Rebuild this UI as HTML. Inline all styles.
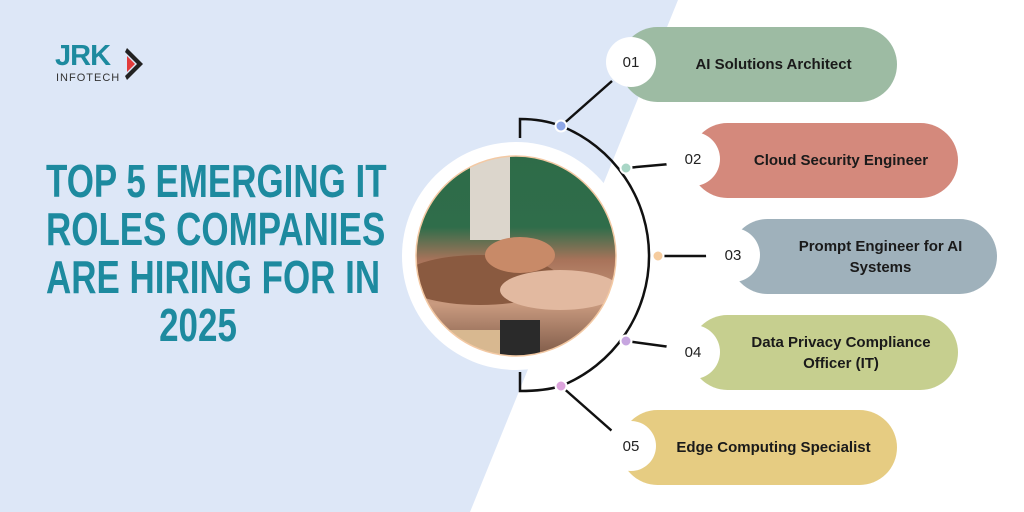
<!DOCTYPE html>
<html><head><meta charset="utf-8"><style>
body{margin:0;width:1024px;height:512px;overflow:hidden;background:#fff;font-family:"Liberation Sans",sans-serif;position:relative}
.t{position:absolute;left:-2px;width:400px;text-align:center;color:#1d8a9f;font-weight:bold;font-size:46px;line-height:48px;white-space:nowrap;transform:scaleX(0.76);transform-origin:center}
.pill{position:absolute;height:75px;border-radius:38px;display:flex;align-items:center;justify-content:center;font-weight:bold;font-size:15px;color:#1a1a1a;text-align:center;line-height:21px}
.num{position:absolute;width:50px;height:50px;border-radius:50%;background:#fff;font-size:15px;color:#222;display:flex;align-items:center;justify-content:center}
</style></head><body>
<svg width="1024" height="512" style="position:absolute;left:0;top:0">
<polygon points="0,0 678,0 470,512 0,512" fill="#dde7f7"/>
<defs><clipPath id="c"><circle cx="516" cy="256" r="100"/></clipPath>
<linearGradient id="g1" x1="0" y1="0" x2="0" y2="1"><stop offset="0" stop-color="#2e6b48"/><stop offset="0.35" stop-color="#2f6d4a"/><stop offset="0.5" stop-color="#a8735a"/><stop offset="0.7" stop-color="#c99a7f"/><stop offset="1" stop-color="#6b4a3a"/></linearGradient></defs>
<circle cx="516" cy="256" r="114" fill="#fff"/>
<g clip-path="url(#c)">
<rect x="410" y="150" width="220" height="220" fill="url(#g1)"/>
<rect x="470" y="150" width="40" height="90" fill="#dcd6cc"/>
<ellipse cx="480" cy="280" rx="80" ry="25" fill="#8a5a40"/>
<ellipse cx="560" cy="290" rx="60" ry="20" fill="#e2b9a0"/>
<ellipse cx="520" cy="255" rx="35" ry="18" fill="#c88a68"/>
<rect x="500" y="320" width="40" height="60" fill="#2a2a2a"/>
<rect x="420" y="330" width="80" height="40" fill="#d8b890"/>
</g>
<circle cx="516" cy="256" r="100" fill="none" stroke="#f3c9a4" stroke-width="1.5"/>
<g stroke="#111" stroke-width="2.5" fill="none">
<path d="M520,138 V119 C535,119 548,121 561,126"/>
<path d="M520,372 V391 C535,391 548,390 561,386"/>
<path d="M561,126 A140,140 0 0 1 561,386"/>
<line x1="561" y1="126" x2="612" y2="81"/>
<line x1="561" y1="386" x2="612" y2="431"/>
<line x1="626" y1="168" x2="670" y2="164"/>
<line x1="658" y1="256" x2="708" y2="256"/>
<line x1="626" y1="341" x2="670" y2="347"/>
</g>
<circle cx="561" cy="126" r="5.5" fill="#8fa7e6" stroke="#fff" stroke-width="2"/>
<circle cx="626" cy="168" r="5.5" fill="#a9d6c6" stroke="#fff" stroke-width="2"/>
<circle cx="658" cy="256" r="5.5" fill="#f6cc9e" stroke="#fff" stroke-width="2"/>
<circle cx="626" cy="341" r="5.5" fill="#c7a6e0" stroke="#fff" stroke-width="2"/>
<circle cx="561" cy="386" r="5.5" fill="#dca3dc" stroke="#fff" stroke-width="2"/>
<polygon points="127,48 143,64 127,80 125,76 137,64 125,52" fill="#222"/>
<polygon points="127,56 135,64 127,72" fill="#e23b3b"/>
</svg>
<div style="position:absolute;left:55px;top:41px;font-weight:bold;font-size:29px;color:#1d8a9f;letter-spacing:-1px;line-height:30px">JRK</div>
<div style="position:absolute;left:56px;top:72px;font-size:11px;color:#333;letter-spacing:1px">INFOTECH</div>
<div class="t" style="top:157px">TOP 5 EMERGING IT</div>
<div class="t" style="top:205px">ROLES COMPANIES</div>
<div class="t" style="top:253px">ARE HIRING FOR IN</div>
<div class="t" style="top:301px">2025</div>
<div class="pill" style="left:620px;top:27px;width:277px;background:#9dbba3;padding-left:30px;box-sizing:border-box">AI Solutions Architect</div>
<div class="pill" style="left:690px;top:123px;width:268px;background:#d4897c;padding-left:34px;box-sizing:border-box">Cloud Security Engineer</div>
<div class="pill" style="left:730px;top:219px;width:267px;background:#9fb1bb;padding-left:34px;box-sizing:border-box">Prompt Engineer for AI<br>Systems</div>
<div class="pill" style="left:690px;top:315px;width:268px;background:#c6cf8f;padding-left:34px;box-sizing:border-box">Data Privacy Compliance<br>Officer (IT)</div>
<div class="pill" style="left:620px;top:410px;width:277px;background:#e6cc82;padding-left:30px;box-sizing:border-box">Edge Computing Specialist</div>
<div class="num" style="left:606px;top:37px">01</div>
<div class="num" style="left:666px;top:132px;width:54px;height:54px">02</div>
<div class="num" style="left:706px;top:228px;width:54px;height:54px">03</div>
<div class="num" style="left:666px;top:325px;width:54px;height:54px">04</div>
<div class="num" style="left:606px;top:421px">05</div>
</body></html>
